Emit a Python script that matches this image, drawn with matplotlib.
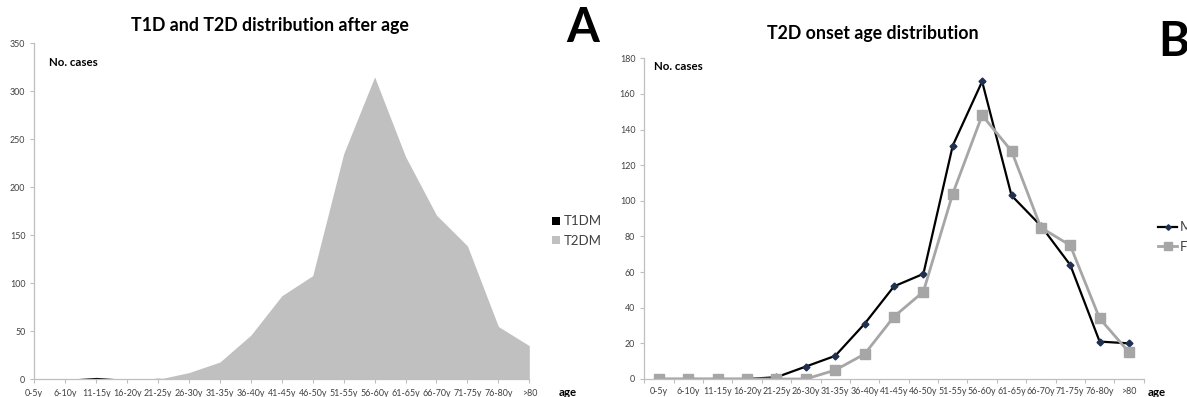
import matplotlib
matplotlib.use("Agg")
import matplotlib.pyplot as plt
import numpy as np

age_groups = ["0-5y", "6-10y", "11-15y", "16-20y", "21-25y", "26-30y", "31-35y",
              "36-40y", "41-45y", "46-50y", "51-55y", "56-60y", "61-65y",
              "66-70y", "71-75y", "76-80y", ">80"]
t1dm = [0, 0, 2, 0, 1, 0, 0, 0, 0, 0, 0, 0, 0, 0, 0, 0, 0]
t2dm = [0, 0, 0, 0, 0, 7, 18, 46, 87, 108, 235, 315, 232, 171, 139, 55, 35]
male = [0, 0, 0, 0, 1, 7, 13, 31, 52, 59, 131, 167, 103, 86, 64, 21, 20]
female = [0, 0, 0, 0, 0, 0, 5, 14, 35, 49, 104, 148, 128, 85, 75, 34, 15]
yticks_a = [0, 50, 100, 150, 200, 250, 300, 350]
yticks_b = [0, 20, 40, 60, 80, 100, 120, 140, 160, 180]

plt.rcParams['font.family'] = ['Lato', 'DejaVu Sans']
W, H = 1187, 397
fig = plt.figure(figsize=(W / 100, H / 100), dpi=100)

axis_col = "#BFBFBF"
txt_col = "#404040"

def px(x0, y0, x1, y1):
    return [x0 / W, 1 - y1 / H, (x1 - x0) / W, (y1 - y0) / H]

def style(ax):
    for s in ["top", "right"]:
        ax.spines[s].set_visible(False)
    for s in ["left", "bottom"]:
        ax.spines[s].set_color(axis_col)
        ax.spines[s].set_linewidth(0.9)
    ax.tick_params(axis="both", colors=axis_col, labelcolor=txt_col,
                   labelsize=6.4, length=3, width=0.8, direction="out")

# Panel A
x = np.arange(len(age_groups))
axA = fig.add_axes(px(34.3, 43.3, 529.3, 379.3))
axA.fill_between(x, 0, t1dm, color="black", linewidth=0, label="T1DM")
axA.fill_between(x, 0, t2dm, color="#C0C0C0", linewidth=0, label="T2DM")
axA.set_xlim(0, len(age_groups) - 1)
axA.set_ylim(0, 350)
axA.set_yticks(yticks_a)
axA.set_xticks(x)
axA.set_xticklabels(age_groups)
style(axA)
axA.tick_params(axis="x", pad=4)
fig.text(270 / W, 1 - 25 / H, "T1D and T2D distribution after age", ha="center",
         va="center", fontsize=12.8, fontweight="bold", color="black")
fig.text(49 / W, 1 - 62 / H, "No. cases", ha="left", va="center", fontsize=8.3,
         fontweight="bold")
fig.text(568 / W, 1 - 392 / H, "age", ha="center", va="center", fontsize=8.3,
         fontweight="bold")
fig.text(583 / W, 1 - 28 / H, "A", ha="center", va="center", fontsize=34,
         fontweight="bold")
hA, lA = axA.get_legend_handles_labels()
fig.legend(hA, lA, loc="center left", bbox_to_anchor=(552 / W, 1 - 231 / H),
           frameon=False, fontsize=9.5, handlelength=0.6, handleheight=0.6,
           handletextpad=0.3, labelspacing=0.55, labelcolor=txt_col, borderpad=0,
           borderaxespad=0)

# Panel B
axB = fig.add_axes(px(644.3, 58.3, 1143.7, 379))
axB.plot(x, male, color="black", lw=1.6, marker="D", ms=3.5,
         mfc="#1F3050", mec="#1F3050", label="M")
axB.plot(x, female, color="#A6A6A6", lw=2.0, marker="s", ms=6.5,
         mfc="#A6A6A6", mec="#A6A6A6", label="F")
axB.set_xlim(-0.5, len(age_groups) - 0.5)
axB.set_ylim(0, 180)
axB.set_yticks(yticks_b)
axB.set_xticks(x)
axB.set_xticklabels(age_groups)
axB.set_xticks(np.arange(len(age_groups) + 1) - 0.5, minor=True)
style(axB)
axB.tick_params(axis="x", which="major", length=0, pad=6)
axB.tick_params(axis="x", which="minor", length=3, color=axis_col, width=0.8)
fig.text(873 / W, 1 - 34 / H, "T2D onset age distribution", ha="center",
         va="center", fontsize=12.8, fontweight="bold")
fig.text(654 / W, 1 - 67 / H, "No. cases", ha="left", va="center", fontsize=8.3,
         fontweight="bold")
fig.text(1157 / W, 1 - 393 / H, "age", ha="center", va="center", fontsize=8.3,
         fontweight="bold")
fig.text(1174 / W, 1 - 42 / H, "B", ha="center", va="center", fontsize=34,
         fontweight="bold")
hB, lB = axB.get_legend_handles_labels()
fig.legend(hB, lB, loc="center left", bbox_to_anchor=(1158 / W, 1 - 237 / H),
           frameon=False, fontsize=9.5, handlelength=1.45, handletextpad=0.2,
           labelspacing=0.55, labelcolor=txt_col, markerscale=0.8, borderpad=0,
           borderaxespad=0)

fig.savefig("out.png", dpi=100)
